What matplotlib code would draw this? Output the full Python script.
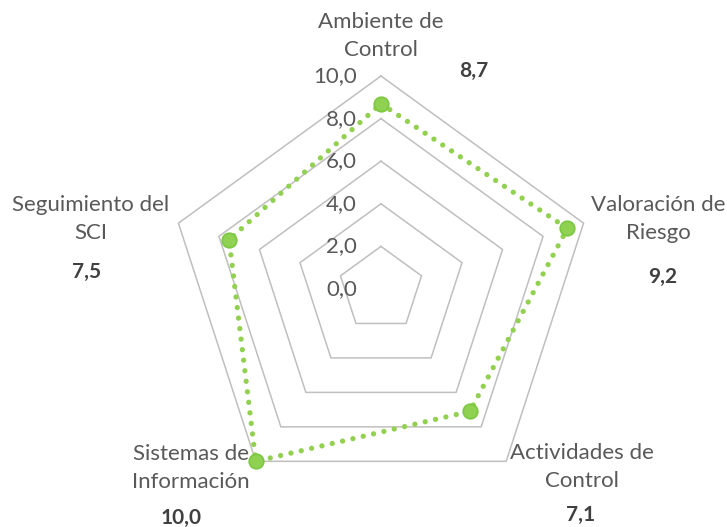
import numpy as np
import matplotlib.pyplot as plt

# scores per component of the internal control system
categories = ["Ambiente de\nControl", "Valoración de\nRiesgo", "Actividades de\nControl",
              "Sistemas de\nInformación", "Seguimiento del\nSCI"]
scores = [8.7, 9.2, 7.1, 10.0, 7.5]
grid_levels = [2, 4, 6, 8, 10]
radial_ticks = [0, 2, 4, 6, 8, 10]

# label offsets (pixels) from the outer vertex of each spoke
cat_offsets = [(0, 40), (75, 4), (76, -6), (-65, -7), (-88, 4)]
val_offsets = [(93, 5), (79, -54), (74, -54), (-75, -57), (-92, -49)]

plt.rcParams['font.family'] = ['Lato', 'DejaVu Sans']

W, H = 727, 527
fig = plt.figure(figsize=(W / 100, H / 100), dpi=100)
cx, cy, R = 381, 289, 213
ax = fig.add_axes([(cx - R) / W, (H - cy - R) / H, 2 * R / W, 2 * R / H], projection='polar')
ax.set_theta_offset(np.pi / 2)
ax.set_theta_direction(-1)
ax.set_ylim(0, 10)
ax.grid(False)
ax.spines['polar'].set_visible(False)
ax.set_xticks([])
ax.set_yticks([])
ax.patch.set_alpha(0)

n = len(categories)
theta = np.arange(n) * 2 * np.pi / n
theta_closed = np.append(theta, theta[0])

# pentagon gridlines
for lvl in grid_levels:
    ax.plot(theta_closed, [lvl] * (n + 1), color='#BFBFBF', lw=1.1, zorder=1, clip_on=False)

# radial value labels along the top spoke
for t in radial_ticks:
    ax.annotate(f"{t:.1f}".replace('.', ','), xy=(0, t), xytext=(-24, 0),
                textcoords='offset pixels', ha='right', va='center',
                fontsize=16, color='#595959')

vals = scores + scores[:1]
ax.plot(theta_closed, vals, color='#92D050', lw=3.8, linestyle=(0, (0.01, 2.0)),
        dash_capstyle='round', zorder=3, clip_on=False)
ax.plot(theta, scores, linestyle='none', marker='o', markersize=10.5,
        markerfacecolor='#8FD150', markeredgecolor='#7DC843', markeredgewidth=1.2,
        zorder=4, clip_on=False)

for i, (lab, v) in enumerate(zip(categories, scores)):
    dx, dy = cat_offsets[i]
    ax.annotate(lab, xy=(theta[i], 10), xytext=(dx, dy), textcoords='offset pixels',
                ha='center', va='center', fontsize=16, color='#595959',
                linespacing=1.5, annotation_clip=False)
    vx, vy = val_offsets[i]
    ax.annotate(f"{v:.1f}".replace('.', ','), xy=(theta[i], 10), xytext=(vx, vy),
                textcoords='offset pixels', ha='center', va='center', fontsize=15,
                fontweight='bold', color='#404040', annotation_clip=False)

fig.savefig('out.png', dpi=100)
